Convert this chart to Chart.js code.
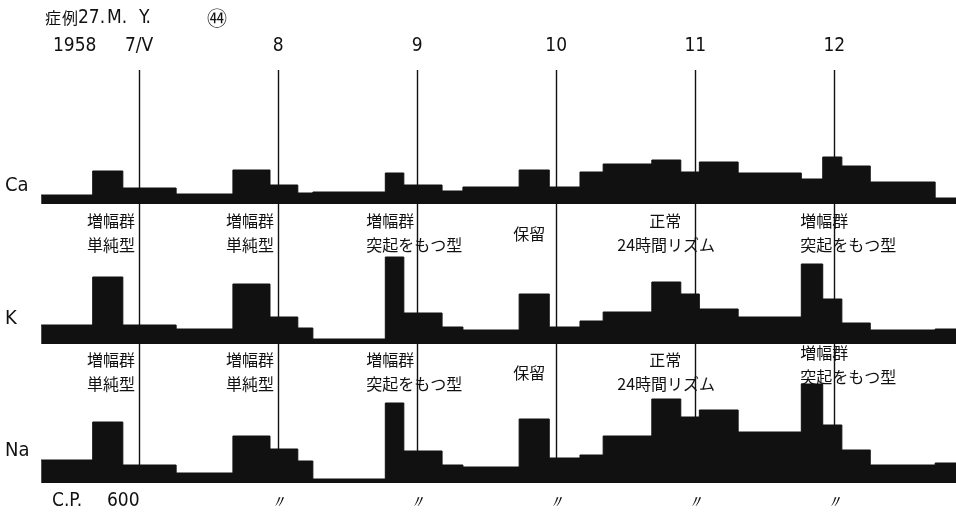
<!DOCTYPE html>
<html>
<head>
<meta charset="utf-8">
<script src="https://cdn.jsdelivr.net/npm/chart.js@4.4.1/dist/chart.umd.min.js"></script>
<style>
  html, body { margin: 0; padding: 0; background: #fff; overflow: hidden; }
  #wrap { width: 956px; height: 515px; position: relative; }
</style>
</head>
<body>
<div id="wrap"><canvas id="excretion" width="956" height="515"></canvas></div>
<script>
// collection periods: bin edges in hours from 7/V 0:00
const binEdges = [-16.9, -8, -2.8, 6.4, 16.2, 22.6, 27.4, 30, 42.5, 45.7, 52.3, 55.9, 65.6,
  70.8, 76.1, 80.1, 88.5, 93.5, 96.7, 103.4, 114.3, 118, 121.3, 126.2, 137.4, 141];

const caValues = [9, 33, 16, 10, 34, 19, 11, 12, 31, 19, 13, 17, 34, 17, 32, 40, 44, 32, 42, 31, 25, 47, 38, 22, 6];
const kValues  = [19, 67, 19, 15, 60, 27, 16, 5, 87, 31, 17, 14, 50, 17, 23, 32, 62, 50, 35, 27, 80, 45, 21, 14, 15];
const naValues = [23, 61, 18, 10, 47, 34, 22, 4, 80, 32, 18, 16, 64, 25, 28, 47, 84, 66, 73, 51, 99, 58, 33, 18, 20];

const seriesNames = ['Ca', 'K', 'Na'];

// day marks (hours) and their labels
const dayHours = [0, 24, 48, 72, 96, 120];
const dayLabels = ['7/V', '8', '9', '10', '11', '12'];
const cpLabels = ['', '〃', '〃', '〃', '〃', '〃'];

// rhythm classification under each day
const patternLabels = [
  ['増幅群', '単純型'],
  ['増幅群', '単純型'],
  ['増幅群', '突起をもつ型'],
  ['保留'],
  ['正常', '24時間リズム'],
  ['増幅群', '突起をもつ型']
];

const latin = '"DejaVu Sans Condensed", "Liberation Sans Narrow", sans-serif';
const jp = '"Noto Sans CJK JP", sans-serif';

function stepPoints(values) {
  const pts = values.map((v, i) => ({ x: binEdges[i], y: v }));
  pts.push({ x: binEdges[binEdges.length - 1], y: values[values.length - 1] });
  return pts;
}

// text placement per day label: [align line1, dx1, align line2, dx2]
const labelPlace = [
  ['right', -4, 'right', -4],
  ['right', -4, 'right', -4],
  ['left', -51, 'left', -51],
  ['right', -11, 'right', -11],
  ['right', -14, 'left', -78],
  ['left', -34, 'left', -34]
];
// label rows (line centres) and small per-day lifts in each row
const labelRows = [[221, 245], [360, 384]];
const rowLift = [[0, 0, 0, 0, 0, 0], [0, 0, 0, 0, 0, -7]];

const annotate = {
  id: 'annotate',
  beforeDatasetsDraw(chart) {
    const { ctx, chartArea, scales } = chart;
    ctx.save();
    ctx.strokeStyle = '#111';
    ctx.lineWidth = 1.4;
    dayHours.forEach(h => {
      const x = Math.round(scales.x.getPixelForValue(h)) + 0.5;
      ctx.beginPath();
      ctx.moveTo(x, chartArea.top + 2);
      ctx.lineTo(x, chartArea.bottom);
      ctx.stroke();
    });
    ctx.restore();
  },
  afterDraw(chart) {
    const { ctx, scales } = chart;
    ctx.save();
    ctx.fillStyle = '#111';
    ctx.textBaseline = 'middle';

    // heading
    ctx.textAlign = 'left';
    ctx.letterSpacing = '1px';
    ctx.font = '16px ' + jp;
    ctx.fillText('症例', 45, 18);
    ctx.letterSpacing = '0px';
    ctx.font = '19px ' + latin;
    ctx.fillText('27.', 78, 18);
    ctx.fillText('M.', 107, 18);
    ctx.fillText('Y.', 139, 18);
    ctx.textAlign = 'center';
    ctx.font = '20px ' + jp;
    ctx.fillText('㊹', 217, 18);

    // dates
    ctx.textAlign = 'left';
    ctx.font = '19px ' + latin;
    ctx.fillText('1958', 53, 46);
    ctx.textAlign = 'center';
    dayHours.forEach((h, i) => {
      ctx.fillText(dayLabels[i], scales.x.getPixelForValue(h), 46);
    });

    // series names
    ctx.textAlign = 'left';
    ctx.font = '20px ' + latin;
    const nameY = [186, 319, 451];
    seriesNames.forEach((n, i) => ctx.fillText(n, 5, nameY[i]));

    // classification labels, above K and above Na
    ctx.font = '16px ' + jp;
    labelRows.forEach((rowY, r) => {
      patternLabels.forEach((lines, i) => {
        const lx = scales.x.getPixelForValue(dayHours[i]);
        const p = labelPlace[i];
        const dy = rowLift[r][i];
        if (lines.length === 1) {
          ctx.textAlign = p[0];
          ctx.fillText(lines[0], lx + p[1], (rowY[0] + rowY[1]) / 2 + 1 + dy);
        } else {
          ctx.textAlign = p[0];
          ctx.fillText(lines[0], lx + p[1], rowY[0] + dy);
          ctx.textAlign = p[2];
          ctx.fillText(lines[1], lx + p[3], rowY[1] + dy);
        }
      });
    });

    // C.P.
    ctx.textAlign = 'left';
    ctx.font = '19px ' + latin;
    ctx.fillText('C.P.', 52, 501);
    ctx.fillText('600', 107, 501);
    ctx.textAlign = 'center';
    ctx.font = 'italic 18px ' + latin;
    dayHours.forEach((h, i) => {
      if (cpLabels[i]) ctx.fillText(cpLabels[i], scales.x.getPixelForValue(h), 503);
    });
    ctx.restore();
  }
};

const strip = (name, values, axis) => ({
  label: name,
  data: stepPoints(values),
  yAxisID: axis,
  stepped: true,
  fill: 'origin',
  borderColor: '#111',
  backgroundColor: '#111',
  borderWidth: 1,
  pointRadius: 0
});

new Chart(document.getElementById('excretion'), {
  type: 'line',
  data: {
    datasets: [
      strip('Ca', caValues, 'yCa'),
      strip('K', kValues, 'yK'),
      strip('Na', naValues, 'yNa')
    ]
  },
  options: {
    responsive: false,
    animation: false,
    layout: { padding: { top: 68, bottom: 32, left: 0, right: 0 } },
    plugins: { legend: { display: false }, tooltip: { enabled: false } },
    scales: {
      x: { type: 'linear', min: -24, max: 141, display: false },
      // stacked strips: the last one listed ends up on top
      yNa: { type: 'linear', min: 0, max: 139, stack: 'strips', stackWeight: 139, display: false },
      yK: { type: 'linear', min: 0, max: 140, stack: 'strips', stackWeight: 140, display: false },
      yCa: { type: 'linear', min: 0, max: 136, stack: 'strips', stackWeight: 136, display: false }
    }
  },
  plugins: [annotate]
});
</script>
</body>
</html>
